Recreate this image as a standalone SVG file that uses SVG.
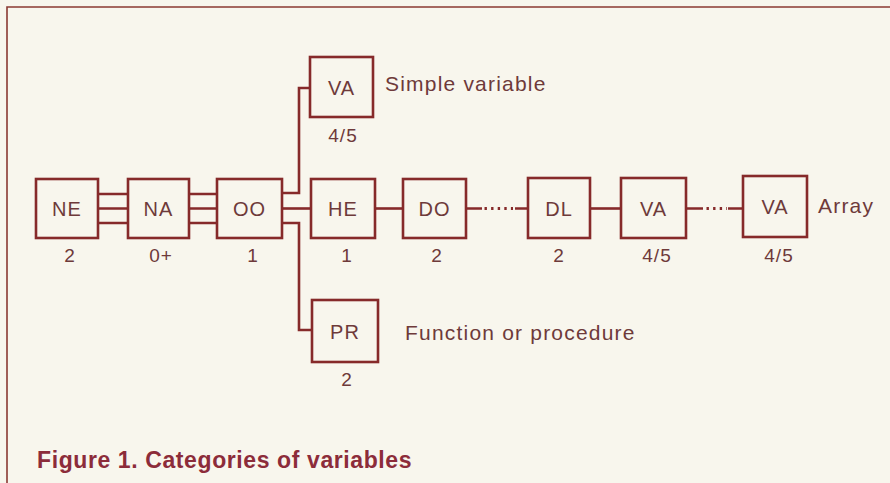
<svg xmlns="http://www.w3.org/2000/svg" width="890" height="483" viewBox="0 0 890 483">
<style>
.box{fill:none;stroke:#862a2a;stroke-width:2.6}
.ln{fill:none;stroke:#862a2a;stroke-width:2.6}
.dot{fill:none;stroke:#862a2a;stroke-width:2.8;stroke-dasharray:2.4 4.2}
.lbl{font-family:"Liberation Sans",Arial,sans-serif;font-size:20px;fill:#6e3a3a;text-anchor:middle;letter-spacing:1px}
.num{font-family:"Liberation Sans",Arial,sans-serif;font-size:19px;fill:#6e3a3a;text-anchor:middle;letter-spacing:1px}
.note{font-family:"Liberation Sans",Arial,sans-serif;font-size:21px;fill:#6e3a3a;letter-spacing:1.2px}
.cap{font-family:"Liberation Sans",Arial,sans-serif;font-size:23px;font-weight:bold;fill:#8c2c3a;letter-spacing:0.6px}
</style>
<rect x="0" y="0" width="890" height="483" fill="#f8f6ed"/>
<path d="M7,483 V7 H890" fill="none" stroke="#8a3a32" stroke-width="1.6"/>
<g id="connectors">
<path class="ln" d="M98,194 H128 M98,208.5 H128 M98,223 H128"/>
<path class="ln" d="M189,194 H217 M189,208.5 H217 M189,223 H217"/>
<path class="ln" d="M282,193 H299 V88 H310"/>
<path class="ln" d="M282,208.5 H311"/>
<path class="ln" d="M282,223 H299 V330 H312"/>
<path class="ln" d="M375,208.5 H403"/>
<path class="ln" d="M466,208.5 H482 M515,208.5 H528"/>
<path class="dot" d="M484.5,208.5 H513"/>
<path class="ln" d="M590,208.5 H621"/>
<path class="ln" d="M686,208.5 H703 M728,208.5 H743"/>
<path class="dot" d="M706.5,208.5 H727"/>
</g>
<g id="NE"><rect class="box" x="36" y="179" width="62" height="59"/><text class="lbl" x="67" y="216">NE</text><text class="num" x="70" y="262">2</text></g>
<g id="NA"><rect class="box" x="128" y="179" width="61" height="59"/><text class="lbl" x="158.5" y="216">NA</text><text class="num" x="161" y="262">0+</text></g>
<g id="OO"><rect class="box" x="217" y="179" width="65" height="59"/><text class="lbl" x="249.5" y="216">OO</text><text class="num" x="253" y="262">1</text></g>
<g id="VA1"><rect class="box" x="310" y="57" width="63" height="60"/><text class="lbl" x="341.5" y="95">VA</text><text class="num" x="343" y="142">4/5</text><text class="note" x="385" y="91">Simple variable</text></g>
<g id="HE"><rect class="box" x="311" y="179" width="64" height="59"/><text class="lbl" x="343" y="216">HE</text><text class="num" x="347" y="262">1</text></g>
<g id="DO"><rect class="box" x="403" y="179" width="63" height="59"/><text class="lbl" x="434.5" y="216">DO</text><text class="num" x="437" y="262">2</text></g>
<g id="DL"><rect class="box" x="528" y="178" width="62" height="60"/><text class="lbl" x="559" y="216">DL</text><text class="num" x="559" y="262">2</text></g>
<g id="VA2"><rect class="box" x="621" y="178" width="65" height="60"/><text class="lbl" x="653.5" y="216">VA</text><text class="num" x="657" y="262">4/5</text></g>
<g id="VA3"><rect class="box" x="743" y="176" width="64" height="61"/><text class="lbl" x="775" y="214">VA</text><text class="num" x="779" y="262">4/5</text><text class="note" x="818" y="213">Array</text></g>
<g id="PR"><rect class="box" x="312" y="300" width="66" height="62"/><text class="lbl" x="345" y="339">PR</text><text class="num" x="347" y="386">2</text><text class="note" x="405" y="340">Function or procedure</text></g>
<text class="cap" x="37" y="468">Figure 1. Categories of variables</text>
</svg>
